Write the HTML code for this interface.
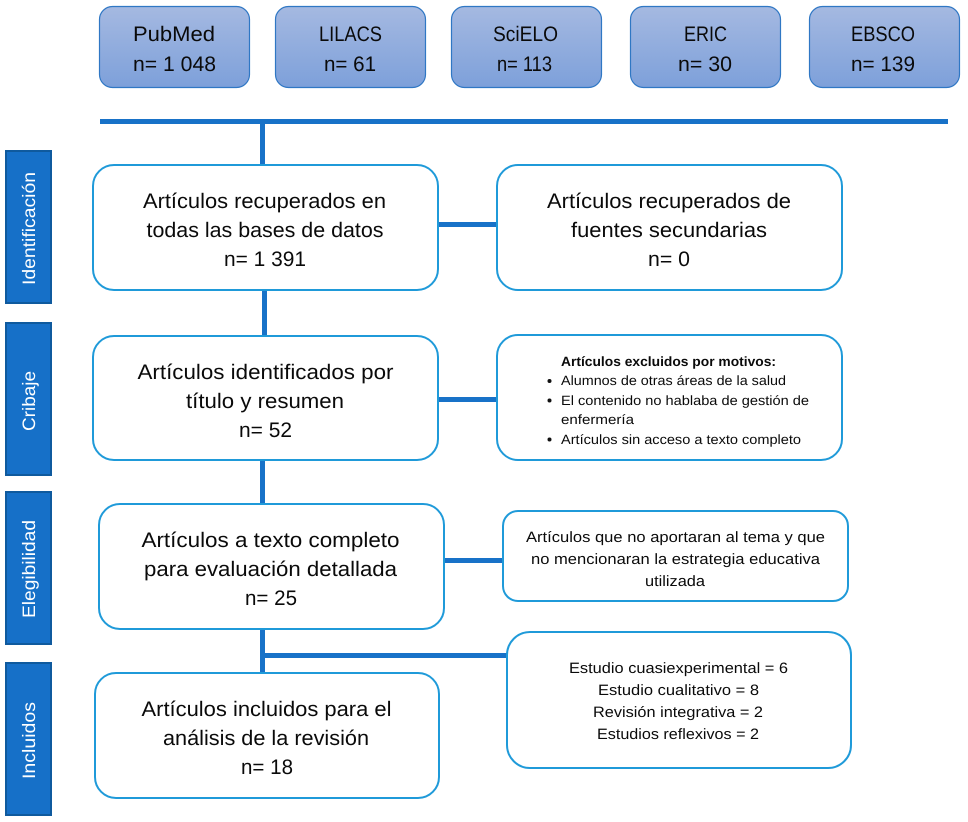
<!DOCTYPE html>
<html lang="es">
<head>
<meta charset="utf-8">
<title>Diagrama de flujo</title>
<style>
html,body{margin:0;padding:0;background:#fff;width:968px;height:822px;overflow:hidden}
svg{display:block}
text{font-family:"Liberation Sans",sans-serif;fill:#0a0a0a;text-rendering:geometricPrecision}
.m{font-size:21px}
.s{font-size:13.5px}
.r{font-size:15px}
.l{font-size:18px;fill:#fff}
.t{fill:url(#g);stroke:#2f77c4;stroke-width:1.2}
.b{fill:#fff;stroke:#1f9ad9;stroke-width:2}
.v{fill:#1670c8;stroke:#0f5a9e;stroke-width:2}
.c{fill:#1872c8}
</style>
</head>
<body>
<svg xmlns="http://www.w3.org/2000/svg" width="968" height="822" viewBox="0 0 968 822">
<defs>
<linearGradient id="g" x1="0" y1="0" x2="0" y2="1">
<stop offset="0" stop-color="#a5b9e1"/>
<stop offset="1" stop-color="#7da0da"/>
</linearGradient>
</defs>

<!-- Connectors -->
<rect class="c" x="100" y="119" width="848" height="5"/>
<rect class="c" x="260" y="124" width="5" height="42"/>
<rect class="c" x="262" y="290" width="5" height="46"/>
<rect class="c" x="260" y="460" width="5" height="44"/>
<rect class="c" x="260" y="629" width="5" height="44"/>
<rect class="c" x="438" y="222" width="59" height="5"/>
<rect class="c" x="438" y="397" width="59" height="5"/>
<rect class="c" x="444" y="558" width="59" height="5"/>
<rect class="c" x="265" y="653" width="242" height="5"/>

<!-- Source boxes -->
<rect class="t" x="99.5" y="6.5" width="150" height="81" rx="13"/>
<rect class="t" x="275.5" y="6.5" width="150" height="81" rx="13"/>
<rect class="t" x="451.5" y="6.5" width="150" height="81" rx="13"/>
<rect class="t" x="630.5" y="6.5" width="150" height="81" rx="13"/>
<rect class="t" x="809.5" y="6.5" width="150" height="81" rx="13"/>

<!-- Stage bars -->
<rect class="v" x="6" y="151" width="45" height="152"/>
<rect class="v" x="6" y="323" width="45" height="152"/>
<rect class="v" x="6" y="492" width="45" height="152"/>
<rect class="v" x="6" y="663" width="45" height="152"/>

<!-- Main boxes -->
<rect class="b" x="93" y="165" width="345" height="125" rx="21"/>
<rect class="b" x="93" y="336" width="345" height="124" rx="21"/>
<rect class="b" x="99" y="504" width="345" height="125" rx="21"/>
<rect class="b" x="95" y="673" width="344" height="125" rx="21"/>
<rect class="b" x="497" y="165" width="345" height="125" rx="21"/>
<rect class="b" x="497" y="335" width="345" height="125" rx="21"/>
<rect class="b" x="503" y="511" width="345" height="90" rx="15"/>
<rect class="b" x="507" y="632" width="344" height="136" rx="23"/>

<!-- Source labels -->
<text class="m" x="133" y="41" textLength="82" lengthAdjust="spacingAndGlyphs">PubMed</text>
<text class="m" x="133" y="71" textLength="83" lengthAdjust="spacingAndGlyphs">n= 1 048</text>
<text class="m" x="319" y="41" textLength="63" lengthAdjust="spacingAndGlyphs">LILACS</text>
<text class="m" x="324" y="71" textLength="52" lengthAdjust="spacingAndGlyphs">n= 61</text>
<text class="m" x="493" y="41" textLength="65" lengthAdjust="spacingAndGlyphs">SciELO</text>
<text class="m" x="497" y="71" textLength="55" lengthAdjust="spacingAndGlyphs">n= 113</text>
<text class="m" x="684" y="41" textLength="43" lengthAdjust="spacingAndGlyphs">ERIC</text>
<text class="m" x="678" y="71" textLength="54" lengthAdjust="spacingAndGlyphs">n= 30</text>
<text class="m" x="851" y="41" textLength="64" lengthAdjust="spacingAndGlyphs">EBSCO</text>
<text class="m" x="851" y="71" textLength="64" lengthAdjust="spacingAndGlyphs">n= 139</text>

<!-- Stage labels -->
<text class="l" transform="translate(35 285) rotate(-90)" textLength="113" lengthAdjust="spacingAndGlyphs">Identificación</text>
<text class="l" transform="translate(35 431) rotate(-90)" textLength="60" lengthAdjust="spacingAndGlyphs">Cribaje</text>
<text class="l" transform="translate(35 618) rotate(-90)" textLength="98" lengthAdjust="spacingAndGlyphs">Elegibilidad</text>
<text class="l" transform="translate(35 779) rotate(-90)" textLength="77" lengthAdjust="spacingAndGlyphs">Incluidos</text>

<!-- Box 1 -->
<text class="m" x="143" y="208" textLength="243" lengthAdjust="spacingAndGlyphs">Artículos recuperados en</text>
<text class="m" x="146.5" y="237" textLength="237" lengthAdjust="spacingAndGlyphs">todas las bases de datos</text>
<text class="m" x="224" y="266" textLength="82" lengthAdjust="spacingAndGlyphs">n= 1 391</text>

<!-- Box 2 -->
<text class="m" x="137.5" y="379" textLength="256" lengthAdjust="spacingAndGlyphs">Artículos identificados por</text>
<text class="m" x="186" y="408" textLength="158" lengthAdjust="spacingAndGlyphs">título y resumen</text>
<text class="m" x="239" y="437" textLength="53" lengthAdjust="spacingAndGlyphs">n= 52</text>

<!-- Box 3 -->
<text class="m" x="141.5" y="547" textLength="258" lengthAdjust="spacingAndGlyphs">Artículos a texto completo</text>
<text class="m" x="144" y="576" textLength="253" lengthAdjust="spacingAndGlyphs">para evaluación detallada</text>
<text class="m" x="245" y="605" textLength="52" lengthAdjust="spacingAndGlyphs">n= 25</text>

<!-- Box 4 -->
<text class="m" x="141.5" y="716" textLength="250" lengthAdjust="spacingAndGlyphs">Artículos incluidos para el</text>
<text class="m" x="163" y="745" textLength="206" lengthAdjust="spacingAndGlyphs">análisis de la revisión</text>
<text class="m" x="241" y="774" textLength="52" lengthAdjust="spacingAndGlyphs">n= 18</text>

<!-- Right 1 -->
<text class="m" x="547" y="208" textLength="244" lengthAdjust="spacingAndGlyphs">Artículos recuperados de</text>
<text class="m" x="571" y="237" textLength="196" lengthAdjust="spacingAndGlyphs">fuentes secundarias</text>
<text class="m" x="648" y="266" textLength="42" lengthAdjust="spacingAndGlyphs">n= 0</text>

<!-- Right 2 -->
<text class="s" x="561" y="366" font-weight="bold" textLength="215" lengthAdjust="spacingAndGlyphs">Artículos excluidos por motivos:</text>
<circle cx="549.5" cy="381" r="2" fill="#111"/>
<text class="s" x="561" y="385" textLength="225" lengthAdjust="spacingAndGlyphs">Alumnos de otras áreas de la salud</text>
<circle cx="549.5" cy="400.5" r="2" fill="#111"/>
<text class="s" x="561" y="405" textLength="248" lengthAdjust="spacingAndGlyphs">El contenido no hablaba de gestión de</text>
<text class="s" x="561" y="424" textLength="73" lengthAdjust="spacingAndGlyphs">enfermería</text>
<circle cx="549.5" cy="439.5" r="2" fill="#111"/>
<text class="s" x="561" y="444" textLength="240" lengthAdjust="spacingAndGlyphs">Artículos sin acceso a texto completo</text>

<!-- Right 3 -->
<text class="r" x="526" y="542" textLength="299" lengthAdjust="spacingAndGlyphs">Artículos que no aportaran al tema y que</text>
<text class="r" x="531" y="564" textLength="289" lengthAdjust="spacingAndGlyphs">no mencionaran la estrategia educativa</text>
<text class="r" x="645" y="586" textLength="60" lengthAdjust="spacingAndGlyphs">utilizada</text>

<!-- Right 4 -->
<text class="r" x="569" y="673" textLength="219" lengthAdjust="spacingAndGlyphs">Estudio cuasiexperimental = 6</text>
<text class="r" x="598" y="695" textLength="161" lengthAdjust="spacingAndGlyphs">Estudio cualitativo = 8</text>
<text class="r" x="593" y="717" textLength="170" lengthAdjust="spacingAndGlyphs">Revisión integrativa = 2</text>
<text class="r" x="597" y="739" textLength="162" lengthAdjust="spacingAndGlyphs">Estudios reflexivos = 2</text>
</svg>
</body>
</html>
